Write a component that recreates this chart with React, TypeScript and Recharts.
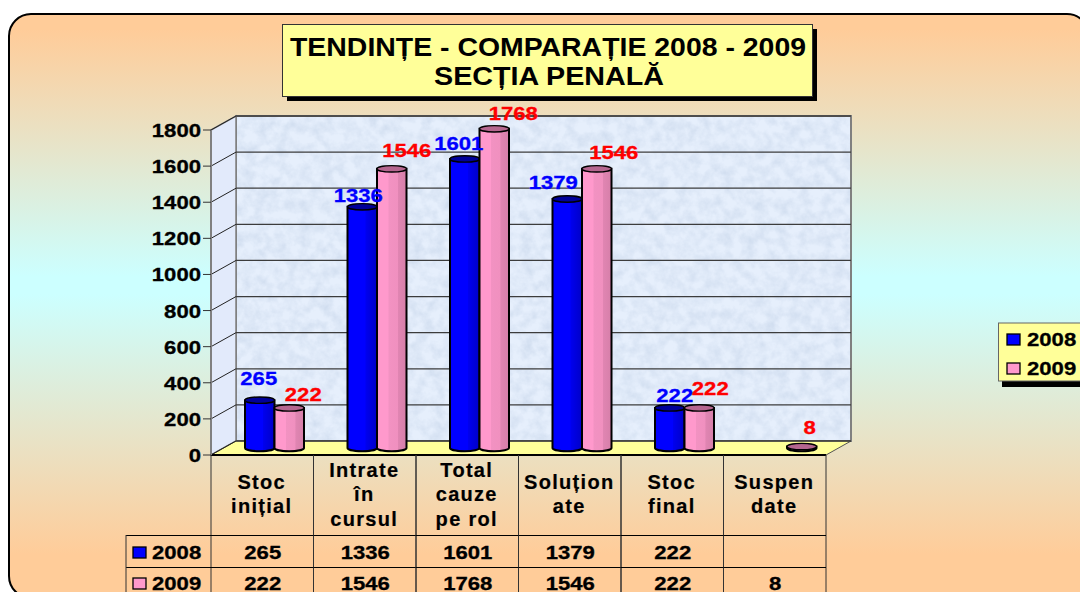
import { BarChart, Bar, XAxis, YAxis, CartesianGrid, LabelList, Legend } from 'recharts'

const categories = [['Stoc', 'inițial'], ['Intrate', 'în', 'cursul'], ['Total', 'cauze', 'pe rol'], ['Soluțion', 'ate'], ['Stoc', 'final'], ['Suspen', 'date']]
const values2008 = [265, 1336, 1601, 1379, 222, null]
const values2009 = [222, 1546, 1768, 1546, 222, 8]
const yTicks = [0, 200, 400, 600, 800, 1000, 1200, 1400, 1600, 1800]

// hand placement of the data labels, relative to the bar top
const nudge2008 = [[-1, -22], [-4, -12], [-6, -16], [-14, -17], [5, -13], [0, 0]]
const nudge2009 = [[14, -14], [15, -19], [19, -16], [17, -17], [11, -20], [8, -20]]

const data = categories.map((c, i) => ({ name: c.join(' '), lines: c, y2008: values2008[i], y2009: values2009[i] }))

const W = 1080
const H = 592
const LEFT = 211
const RIGHT = 826
const TOP = 130
const BOTTOM = 455
const DX = 25
const DY = -14
const BAND = (RIGHT - LEFT) / categories.length
const FONT = '"Liberation Sans", Arial, sans-serif'
const BLUE = '#0000ff'
const PINK = '#ff99cc'

function Txt({ x, y, children, fill = '#000', size = 19, charW = 12.3, anchor = 'middle' }: any) {
  const s = String(children)
  return (
    <text x={x} y={y} fill={fill} stroke={fill} strokeWidth={0.3} fontSize={size} fontWeight="bold" fontFamily={FONT} textAnchor={anchor}
      textLength={s.length * charW} lengthAdjust="spacingAndGlyphs">{s}</text>
  )
}

function Backdrop() {
  return (
    <svg width={W} height={H} style={{ position: 'absolute', left: 0, top: 0 }}>
      <defs>
        <linearGradient id="page" x1="0" y1="0" x2="0" y2="1">
          <stop offset="0.027" stopColor="#ffcc99" />
          <stop offset="0.45" stopColor="#ccffff" />
          <stop offset="0.48" stopColor="#ccffff" />
          <stop offset="0.926" stopColor="#ffcc99" />
        </linearGradient>
        <linearGradient id="cylBlue" x1="0" y1="0" x2="1" y2="0">
          <stop offset="0" stopColor="#0000ff" />
          <stop offset="0.6" stopColor="#0000ff" />
          <stop offset="0.62" stopColor="#0000ee" />
          <stop offset="1" stopColor="#0000c8" />
        </linearGradient>
        <linearGradient id="cylPink" x1="0" y1="0" x2="1" y2="0">
          <stop offset="0" stopColor="#ff99cc" />
          <stop offset="0.38" stopColor="#ff99cc" />
          <stop offset="0.4" stopColor="#f292c2" />
          <stop offset="0.7" stopColor="#f090bf" />
          <stop offset="0.72" stopColor="#e085b2" />
          <stop offset="1" stopColor="#d67fa9" />
        </linearGradient>
        <filter id="marble" x="0" y="0" width="100%" height="100%" colorInterpolationFilters="sRGB">
          <feTurbulence type="fractalNoise" baseFrequency="0.09" numOctaves="4" seed="7" />
          <feColorMatrix type="matrix" values="0 0 0 0 0.82  0 0 0 0 0.87  0 0 0 0 0.94  1.8 0 0 0 -0.6" result="n" />
          <feMerge>
            <feMergeNode in="SourceGraphic" />
            <feMergeNode in="n" />
          </feMerge>
        </filter>
      </defs>

      <rect x={9} y={14} width={1080} height={584} rx={22} fill="url(#page)" stroke="#000" strokeWidth={2} />

      {/* title */}
      <rect x={287} y={29} width={530} height={72} fill="#000" />
      <rect x={282.5} y={24.5} width={530} height={72} fill="#ffff99" stroke="#333" />
      <text x={548} y={56} textAnchor="middle" fontFamily={FONT} fontWeight="bold" fontSize={25} textLength={516} lengthAdjust="spacingAndGlyphs">TENDINȚE - COMPARAȚIE 2008 - 2009</text>
      <text x={549} y={85} textAnchor="middle" fontFamily={FONT} fontWeight="bold" fontSize={25} textLength={230} lengthAdjust="spacingAndGlyphs">SECȚIA PENALĂ</text>

      {/* walls and floor */}
      <rect x={LEFT + DX} y={TOP + DY} width={RIGHT - LEFT} height={BOTTOM - TOP} fill="#e6effc" filter="url(#marble)" />
      <rect x={LEFT + DX} y={TOP + DY} width={RIGHT - LEFT} height={BOTTOM - TOP} fill="none" stroke="#808080" strokeWidth={2} />
      <polygon points={`${LEFT},${TOP} ${LEFT + DX},${TOP + DY} ${LEFT + DX},${BOTTOM + DY} ${LEFT},${BOTTOM}`} fill="#e2eafb" stroke="#808080" strokeWidth={1.5} />
      <polygon points={`${LEFT},${BOTTOM} ${RIGHT},${BOTTOM} ${RIGHT + DX},${BOTTOM + DY} ${LEFT + DX},${BOTTOM + DY}`} fill="#ffff99" stroke="#555" />
    </svg>
  )
}

function Cylinder({ x, y, width, height, value, dataKey }: any) {
  if (value == null || !width) return null
  const isBlue = dataKey === 'y2008'
  const rx = width / 2
  const ry = 3.2
  const left = x + 12
  const right = left + width
  const top = y - 7
  const base = y + height - 7
  return (
    <g stroke="#000" strokeWidth={2}>
      <path
        d={`M${left},${top} L${left},${base} A${rx},${ry} 0 0 0 ${right},${base} L${right},${top} Z`}
        fill={isBlue ? 'url(#cylBlue)' : 'url(#cylPink)'}
      />
      <ellipse cx={left + rx} cy={top} rx={rx} ry={ry} fill={isBlue ? '#000099' : '#b5668f'} strokeWidth={1.4} />
    </g>
  )
}

function makeLabel(color: string, nudge: number[][]) {
  return ({ x, y, width, value, index }: any) => {
    if (value == null) return null
    const [dx, dy] = nudge[index]
    return <Txt x={x + 12 + width / 2 + dx} y={y + dy} fill={color}>{value}</Txt>
  }
}

function YTick({ x, y, payload }: any) {
  return <Txt x={x} y={y + 7} anchor="end">{payload.value}</Txt>
}

function SideTick({ y, color, label }: any) {
  return (
    <g>
      <rect x={133} y={y - 5} width={13} height={11} fill={color} stroke="#000" strokeWidth={1.3} />
      <Txt x={152} y={y + 7} anchor="start">{label}</Txt>
    </g>
  )
}

// the data table under the plot hangs off the category axis
function TableTick({ x, index }: any) {
  const row = data[index]
  const l = x - BAND / 2
  const r = x + BAND / 2
  const n = row.lines.length
  const startY = n === 3 ? 477 : 489
  return (
    <g>
      <line x1={l} y1={BOTTOM} x2={l} y2={H} stroke="#333" />
      <line x1={r} y1={BOTTOM} x2={r} y2={H} stroke="#333" />
      <line x1={l} y1={535.5} x2={r} y2={535.5} stroke="#000" />
      <line x1={l} y1={567.5} x2={r} y2={567.5} stroke="#000" />
      {row.lines.map((t, i) => (
        <text key={t} x={x - 0.5} y={startY + i * 24.3} textAnchor="middle" fontFamily={FONT} fontWeight="bold" fontSize={20} letterSpacing={1.3}
          stroke="#000" strokeWidth={0.2}>{t}</text>
      ))}
      <Txt x={x + 0.5} y={559}>{row.y2008 ?? ''}</Txt>
      <Txt x={x + 0.5} y={590}>{row.y2009}</Txt>
      {index === 0 && (
        <g>
          <line x1={126} y1={535.5} x2={l} y2={535.5} stroke="#000" />
          <line x1={126} y1={567.5} x2={l} y2={567.5} stroke="#000" />
          <line x1={126} y1={535} x2={126} y2={H} stroke="#333" />
          <SideTick y={552} color={BLUE} label="2008" />
          <SideTick y={583} color={PINK} label="2009" />
        </g>
      )}
    </g>
  )
}

function GridLine({ x1, x2, y1, index }: any) {
  return (
    <g key={index}>
      <line x1={x1} y1={y1} x2={x1 + DX} y2={y1 + DY} stroke="#222" />
      <line x1={x1 + DX} y1={y1 + DY} x2={x2 + DX} y2={y1 + DY} stroke="#3c3c3c" strokeWidth={1.3} />
    </g>
  )
}

function LegendBox({ payload }: any) {
  return (
    <svg width={90} height={70} style={{ position: 'absolute', left: 998, top: 322 }}>
      <rect x={4} y={6} width={90} height={59} fill="#000" />
      <rect x={0.5} y={1} width={90} height={58} fill="#ffff99" stroke="#666" />
      {(payload ?? []).map((p: any, i: number) => (
        <g key={p.value}>
          <rect x={9} y={12 + i * 29} width={13} height={11} fill={p.color} stroke="#000" strokeWidth={1.3} />
          <Txt x={29} y={23.5 + i * 29} anchor="start">{p.value}</Txt>
        </g>
      ))}
    </svg>
  )
}

export default function App() {
  return (
    <div style={{ position: 'fixed', left: 0, top: 0, width: W, height: H, overflow: 'hidden', background: '#fff' }}>
      <Backdrop />
      <div style={{ position: 'absolute', left: 0, top: 0 }}>
        <BarChart width={W} height={H} data={data} barGap={0} barSize={29.5}
          margin={{ top: TOP, right: W - RIGHT, bottom: 0, left: 0 }}>
          <CartesianGrid vertical={false} horizontal={GridLine as any} />
          <XAxis dataKey="name" height={H - BOTTOM} interval={0} tick={TableTick as any} tickLine={false}
            axisLine={{ stroke: '#000', strokeWidth: 2 }} />
          <YAxis width={LEFT} domain={[0, 1800]} ticks={yTicks} interval={0} tick={YTick as any} tickSize={8} tickMargin={2}
            axisLine={{ stroke: '#808080', strokeWidth: 2 }} tickLine={{ stroke: '#333' }} />
          <Legend layout="horizontal" verticalAlign="middle" align="center" content={LegendBox as any}
            wrapperStyle={{ position: 'absolute', left: 0, top: 0, width: 0, height: 0 }} />
          <Bar dataKey="y2008" name="2008" fill={BLUE} shape={Cylinder as any} isAnimationActive={false}>
            <LabelList dataKey="y2008" content={makeLabel('#0000ff', nudge2008) as any} {...({ zIndex: 900 } as any)} />
          </Bar>
          <Bar dataKey="y2009" name="2009" fill={PINK} shape={Cylinder as any} isAnimationActive={false}>
            <LabelList dataKey="y2009" content={makeLabel('#ff0000', nudge2009) as any} {...({ zIndex: 900 } as any)} />
          </Bar>
        </BarChart>
      </div>
    </div>
  )
}
